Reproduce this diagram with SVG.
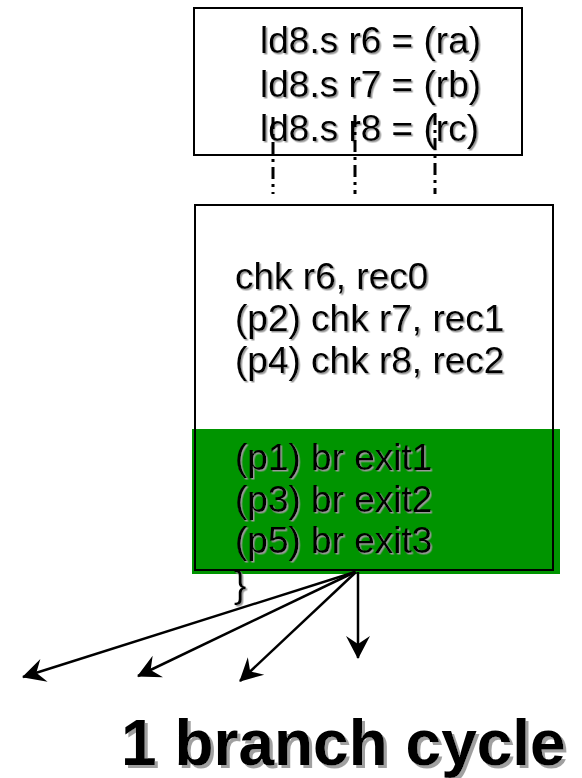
<svg xmlns="http://www.w3.org/2000/svg" width="582" height="778" viewBox="0 0 582 778">
  <style>
    .code { font-family: "Liberation Sans", Arial, sans-serif; font-size: 37px; fill: #000; }
    .title { font-family: "Liberation Sans", Arial, sans-serif; font-size: 64px; font-weight: bold; fill: #000; }
    .box { fill: none; stroke: #000; stroke-width: 2; }
    .dep { fill: none; stroke: #000; stroke-width: 3; stroke-dasharray: 12 5 3 5; }
    .edge { fill: none; stroke: #000; stroke-width: 2.5; marker-end: url(#head); }
  </style>
  <defs>
    <filter id="shadow" x="-5%" y="-5%" width="115%" height="130%">
      <feDropShadow dx="1.5" dy="1.5" stdDeviation="0.4" flood-color="#999999" flood-opacity="1"/>
    </filter>
    <filter id="shadowBig" x="-5%" y="-10%" width="115%" height="140%">
      <feDropShadow dx="3" dy="3" stdDeviation="0.6" flood-color="#a0a0a0" flood-opacity="1"/>
    </filter>
    <marker id="head" markerUnits="userSpaceOnUse" viewBox="-26 -14 28 28" markerWidth="28" markerHeight="28" refX="0" refY="0" orient="auto" overflow="visible">
      <path d="M1,0 L-22,-12 L-14,0 L-22,12 Z" fill="#000"/>
    </marker>
  </defs>

  <!-- load block -->
  <g id="loads">
    <rect class="box" x="194" y="8" width="328" height="147"/>
    <g filter="url(#shadow)">
      <text class="code" x="260" y="53">ld8.s r6 = (ra)</text>
      <text class="code" x="260" y="97">ld8.s r7 = (rb)</text>
      <text class="code" x="260" y="141">ld8.s r8 = (rc)</text>
    </g>
  </g>

  <!-- check / branch block -->
  <g id="checks">
    <rect x="192" y="429" width="368" height="145" fill="#009400"/>
    <rect class="box" x="195" y="205" width="358" height="365"/>
    <g filter="url(#shadow)">
      <text class="code" x="235" y="289">chk r6, rec0</text>
      <text class="code" x="235" y="331">(p2) chk r7, rec1</text>
      <text class="code" x="235" y="373">(p4) chk r8, rec2</text>
      <text class="code" x="235" y="470">(p1) br exit1</text>
      <text class="code" x="235" y="512">(p3) br exit2</text>
      <text class="code" x="235" y="553">(p5) br exit3</text>
      <text class="code" x="234" y="597">}</text>
    </g>
  </g>

  <!-- dependences and branch targets -->
  <g id="connectors">
    <line class="dep" x1="273" y1="117" x2="273" y2="194"/>
    <line class="dep" x1="355" y1="115" x2="355" y2="194"/>
    <line class="dep" x1="435" y1="113" x2="435" y2="194"/>
    <line class="edge" x1="355" y1="572" x2="23" y2="677"/>
    <line class="edge" x1="355" y1="572" x2="138" y2="676"/>
    <line class="edge" x1="356" y1="572" x2="240" y2="681"/>
    <line class="edge" x1="358" y1="572" x2="358" y2="658"/>
  </g>

  <g id="caption" filter="url(#shadowBig)">
    <text class="title" x="121" y="765">1 branch cycle</text>
  </g>
</svg>
